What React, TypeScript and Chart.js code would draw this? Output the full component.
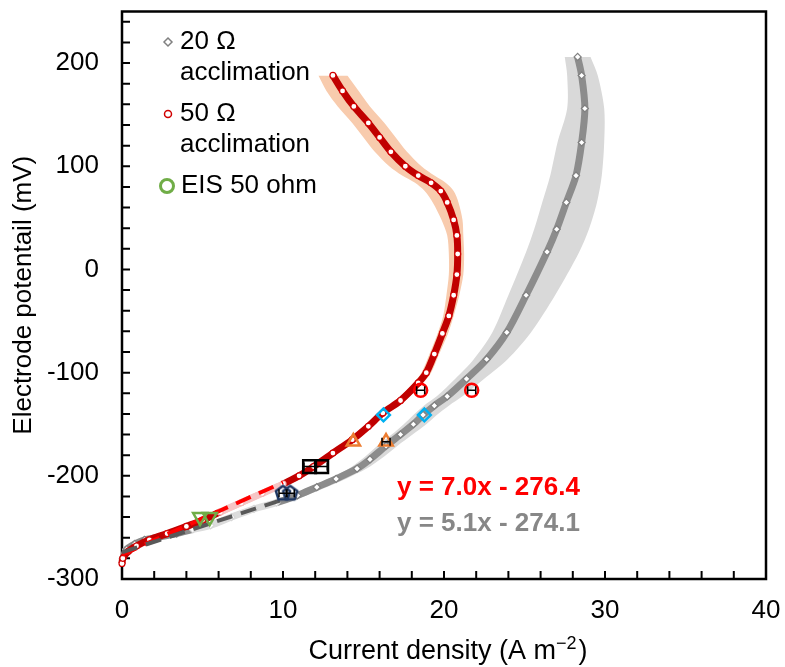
import React, { useEffect, useRef } from 'react';
import { Chart, registerables } from 'chart.js';

Chart.register(...registerables);

const FONT = "'Liberation Sans', Arial, Helvetica, sans-serif";

// ---- axes ----
const xTickValues = [0, 10, 20, 30, 40];
const yTickValues = [-300, -200, -100, 0, 100, 200];
const xMin = 0;
const xMax = 40;
const xMinorStep = 2;
const yMin = -300;
const yMax = 250;
const yMinorStep = 20;

// ---- 50 Ω acclimation (mean curve, x = current density, y = potential) ----
const red50X = [0.0, 0.05, 0.4, 0.9, 1.7, 2.8, 4.0, 5.0, 6.1, 7.4, 8.7, 10.0, 11.0, 11.9, 13.1, 14.3, 15.3, 16.2, 17.3, 18.4, 18.9, 19.4, 19.9, 20.3, 20.6, 20.8, 20.85, 20.8, 20.6, 20.2, 19.8, 19.2, 18.4, 17.6, 16.7, 16.0, 15.3, 14.4, 13.7, 13.1];
const red50Y = [-285, -280, -273, -268, -262, -256, -249, -243, -235, -226, -217, -208, -200, -191, -178, -165, -152, -139, -127, -110, -100, -82, -62, -45, -25, -5, 15, 33, 48, 65, 76, 84, 91, 100, 114, 128, 142, 158, 173, 188];
const red50ErrL = [0.15, 0.2, 0.25, 0.3, 0.3, 0.35, 0.4, 0.4, 0.45, 0.5, 0.5, 0.45, 0.35, 0.3, 0.3, 0.3, 0.3, 0.3, 0.3, 0.3, 0.3, 0.3, 0.3, 0.35, 0.45, 0.5, 0.55, 0.6, 0.75, 0.9, 1.0, 1.0, 1.0, 1.0, 1.0, 1.0, 1.0, 1.0, 1.0, 0.9];
const red50ErrR = [0.15, 0.2, 0.25, 0.3, 0.3, 0.35, 0.4, 0.45, 0.5, 0.5, 0.5, 0.45, 0.35, 0.3, 0.3, 0.3, 0.3, 0.3, 0.3, 0.3, 0.3, 0.3, 0.35, 0.3, 0.35, 0.4, 0.4, 0.4, 0.55, 0.7, 0.8, 0.9, 1.0, 1.0, 1.0, 1.0, 1.0, 1.0, 1.0, 0.9];

// ---- 20 Ω acclimation ----
const gray20X = [0.05, 0.3, 0.8, 1.4, 2.4, 3.4, 4.4, 5.5, 6.8, 8.2, 9.6, 10.9, 12.1, 13.3, 14.6, 15.4, 16.4, 17.3, 18.1, 18.7, 19.4, 20.2, 21.4, 22.65, 23.9, 25.1, 26.4, 27.0, 27.6, 28.2, 28.55, 28.75, 28.55, 28.3];
const gray20Y = [-280, -271, -266, -262, -259, -256, -252, -248, -240, -232, -226, -219, -211, -203, -193, -184, -171, -160, -150, -141, -132, -123, -106, -87, -61, -25, 17, 39, 65, 91, 123, 156, 188, 206];
const gray20ErrL = [0.2, 0.3, 0.35, 0.4, 0.4, 0.45, 0.5, 0.5, 0.5, 0.5, 0.5, 0.5, 0.5, 0.5, 0.5, 0.5, 0.55, 0.55, 0.6, 0.6, 0.65, 0.65, 0.7, 0.8, 0.9, 1.1, 1.3, 1.4, 1.5, 1.6, 1.5, 1.1, 0.9, 0.8];
const gray20ErrR = [0.2, 0.3, 0.35, 0.4, 0.4, 0.45, 0.5, 0.5, 0.5, 0.55, 0.55, 0.55, 0.6, 0.6, 0.6, 0.65, 0.7, 0.75, 0.8, 0.85, 0.9, 0.95, 1.1, 1.3, 1.5, 1.8, 2.0, 2.0, 1.9, 1.6, 1.4, 1.2, 1.0, 0.8];

// ---- linear fits (as printed on the chart) ----
const fit50Slope = 7.0;
const fit50Intercept = -276.4;
const fit50XRange = [0, 10];
const fit20Slope = 5.1;
const fit20Intercept = -274.1;
const fit20XRange = [0, 10];

// ---- EIS points ----
const eisGreenX = [4.85, 5.45];
const eisGreenY = [-240, -240];
const eisNavyX = [10.0, 10.45];
const eisNavyY = [-217, -217];
const eisNavyErr = [0.25, 0.25];
const eisBlackX = [11.65, 12.4];
const eisBlackY = [-191, -191];
const eisBlackErr = [0.35, 0.35];
const eisOrangeX = [14.37, 16.4];
const eisOrangeY = [-167, -167];
const eisOrangeErr = [0, 0.25];
const eisCyanX = [16.24, 18.78];
const eisCyanY = [-141, -141];
const eisRedX = [18.55, 21.72];
const eisRedY = [-117, -117];
const eisRedErr = [0.25, 0.25];

const red50PaleRange = [5.2, 10.2];
const gray20PaleRange = [3.6, 10.2];

const pts = (xs: number[], ys: number[]) => xs.map((x, i) => ({ x, y: ys[i] }));

function makePentagon(color: string, r: number, lw: number) {
  const c = document.createElement('canvas');
  const s = Math.ceil(2 * r + lw * 2 + 2);
  c.width = s;
  c.height = s;
  const g = c.getContext('2d')!;
  g.strokeStyle = color;
  g.lineWidth = lw;
  g.lineJoin = 'round';
  g.beginPath();
  for (let i = 0; i < 5; i++) {
    const a = -Math.PI / 2 + (i * 2 * Math.PI) / 5;
    const px = s / 2 + r * Math.cos(a);
    const py = s / 2 + r * Math.sin(a);
    if (i === 0) g.moveTo(px, py);
    else g.lineTo(px, py);
  }
  g.closePath();
  g.stroke();
  return c;
}

const inRange = (v: number, r: number[]) => v >= r[0] && v <= r[1];

const zeroPad = (s: any) => {
  s.paddingTop = 0;
  s.paddingBottom = 0;
  s.paddingLeft = 0;
  s.paddingRight = 0;
};

export default function App() {
  const ref = useRef<HTMLCanvasElement>(null);

  useEffect(() => {
    const canvas = ref.current!;
    const pentagon = makePentagon('#1F3864', 7.5, 2.5);

    const axesPlugin = {
      id: 'axesFrame',
      beforeDatasetsDraw(chart: any) {
        const { ctx, chartArea: a, scales } = chart;
        const xs = scales.x;
        const ys = scales.y;
        ctx.save();
        ctx.strokeStyle = '#000';
        ctx.lineWidth = 2.5;
        ctx.strokeRect(a.left, a.top, a.right - a.left, a.bottom - a.top);
        ctx.lineWidth = 2;
        ctx.beginPath();
        for (let v = yMin + yMinorStep; v < yMax; v += yMinorStep) {
          const py = ys.getPixelForValue(v);
          ctx.moveTo(a.left, py);
          ctx.lineTo(a.left + 8, py);
        }
        for (let v = xMin + xMinorStep; v < xMax; v += xMinorStep) {
          const px = xs.getPixelForValue(v);
          ctx.moveTo(px, a.bottom);
          ctx.lineTo(px, a.bottom - 8);
        }
        ctx.stroke();
        ctx.restore();
      },
    };

    const errPlugin = {
      id: 'errBars',
      afterDatasetsDraw(chart: any) {
        const { ctx, scales } = chart;
        const xs = scales.x;
        const ys = scales.y;
        const groups: [number[], number[], number[]][] = [
          [eisNavyX, eisNavyY, eisNavyErr],
          [eisBlackX, eisBlackY, eisBlackErr],
          [eisOrangeX, eisOrangeY, eisOrangeErr],
          [eisRedX, eisRedY, eisRedErr],
        ];
        ctx.save();
        ctx.strokeStyle = '#000';
        ctx.lineWidth = 1.5;
        ctx.beginPath();
        for (const [gx, gy, ge] of groups) {
          gx.forEach((x, i) => {
            if (!ge[i]) return;
            const x0 = xs.getPixelForValue(x - ge[i]);
            const x1 = xs.getPixelForValue(x + ge[i]);
            const py = ys.getPixelForValue(gy[i]);
            ctx.moveTo(x0, py);
            ctx.lineTo(x1, py);
            ctx.moveTo(x0, py - 4);
            ctx.lineTo(x0, py + 4);
            ctx.moveTo(x1, py - 4);
            ctx.lineTo(x1, py + 4);
          });
        }
        ctx.stroke();
        ctx.restore();
      },
    };

    const textPlugin = {
      id: 'texts',
      afterDraw(chart: any) {
        const { ctx, chartArea: a } = chart;
        ctx.save();
        ctx.textBaseline = 'middle';
        ctx.textAlign = 'left';
        // legend markers
        ctx.lineWidth = 1.5;
        ctx.strokeStyle = '#808080';
        ctx.fillStyle = '#fff';
        ctx.beginPath();
        ctx.moveTo(168, 38);
        ctx.lineTo(172, 42);
        ctx.lineTo(168, 46);
        ctx.lineTo(164, 42);
        ctx.closePath();
        ctx.fill();
        ctx.stroke();
        ctx.strokeStyle = '#D00000';
        ctx.beginPath();
        ctx.arc(168, 114, 3.5, 0, Math.PI * 2);
        ctx.fill();
        ctx.stroke();
        ctx.strokeStyle = '#70AD47';
        ctx.lineWidth = 3;
        ctx.beginPath();
        ctx.arc(167, 186, 6.5, 0, Math.PI * 2);
        ctx.stroke();
        // legend text
        ctx.fillStyle = '#000';
        ctx.font = `26px ${FONT}`;
        ctx.fillText('20 Ω', 180, 42);
        ctx.fillText('acclimation', 180, 73);
        ctx.fillText('50 Ω', 180, 114);
        ctx.fillText('acclimation', 180, 145);
        ctx.fillText('EIS 50 ohm', 181, 186);
        // equations
        ctx.font = `bold 26px ${FONT}`;
        ctx.fillStyle = '#FF0000';
        ctx.fillText(`y = ${fit50Slope.toFixed(1)}x - ${Math.abs(fit50Intercept).toFixed(1)}`, 397, 488);
        ctx.fillStyle = '#878787';
        ctx.fillText(`y = ${fit20Slope.toFixed(1)}x - ${Math.abs(fit20Intercept).toFixed(1)}`, 397, 524);
        // x title with superscript
        ctx.fillStyle = '#000';
        ctx.textBaseline = 'alphabetic';
        const main = 'Current density (A m';
        const sup = '\u22122';
        const end = ')';
        ctx.font = `27px ${FONT}`;
        const wMain = ctx.measureText(main).width;
        const wEnd = ctx.measureText(end).width;
        ctx.font = `18px ${FONT}`;
        const wSup = ctx.measureText(sup).width;
        const total = wMain + wSup + 2 + wEnd;
        const cx = (a.left + a.right) / 2 + 4;
        const base = 659;
        let x0 = cx - total / 2;
        ctx.font = `27px ${FONT}`;
        ctx.fillText(main, x0, base);
        x0 += wMain;
        ctx.font = `18px ${FONT}`;
        ctx.fillText(sup, x0, base - 10);
        x0 += wSup + 2;
        ctx.font = `27px ${FONT}`;
        ctx.fillText(end, x0, base);
        ctx.restore();
      },
    };

    const red50Pts = pts(red50X, red50Y);
    const gray20Pts = pts(gray20X, gray20Y);

    const config: any = {
      type: 'line',
      data: {
        datasets: [
          {
            data: gray20X.map((x, i) => ({ x: x + gray20ErrR[i], y: gray20Y[i] })),
            borderWidth: 0,
            borderColor: 'rgba(0,0,0,0)',
            pointRadius: 0,
            fill: false,
            tension: 0.3,
            order: 12,
          },
          {
            data: gray20X.map((x, i) => ({ x: x - gray20ErrL[i], y: gray20Y[i] })),
            borderWidth: 0,
            borderColor: 'rgba(0,0,0,0)',
            pointRadius: 0,
            fill: '-1',
            backgroundColor: '#D9D9D9',
            tension: 0.3,
            order: 12,
          },
          {
            data: red50X.map((x, i) => ({ x: x + red50ErrR[i], y: red50Y[i] })),
            borderWidth: 0,
            borderColor: 'rgba(0,0,0,0)',
            pointRadius: 0,
            fill: false,
            tension: 0.3,
            order: 11,
          },
          {
            data: red50X.map((x, i) => ({ x: x - red50ErrL[i], y: red50Y[i] })),
            borderWidth: 0,
            borderColor: 'rgba(0,0,0,0)',
            pointRadius: 0,
            fill: '-1',
            backgroundColor: '#F8CBAD',
            tension: 0.3,
            order: 11,
          },
          {
            label: '20 Ω acclimation',
            data: gray20Pts,
            borderColor: '#8C8C8C',
            borderWidth: 7,
            tension: 0.3,
            pointStyle: 'rectRot',
            pointRadius: 3.5,
            pointBorderWidth: 1.2,
            pointBackgroundColor: '#fff',
            pointBorderColor: (c: any) => (c.raw && inRange(c.raw.x, gray20PaleRange) ? '#D6D6D6' : '#7F7F7F'),
            segment: {
              borderColor: (c: any) =>
                inRange(c.p0.parsed.x, gray20PaleRange) && inRange(c.p1.parsed.x, gray20PaleRange) ? '#DCDCDC' : undefined,
            },
            clip: false,
            order: 6,
          },
          {
            label: '50 Ω acclimation',
            data: red50Pts,
            borderColor: '#C00000',
            borderWidth: 7,
            tension: 0.3,
            pointStyle: 'circle',
            pointRadius: 3,
            pointBorderWidth: 1.2,
            pointBackgroundColor: '#fff',
            pointBorderColor: (c: any) => (c.raw && inRange(c.raw.x, red50PaleRange) ? '#F3B8B8' : '#D00000'),
            segment: {
              borderColor: (c: any) =>
                inRange(c.p0.parsed.x, red50PaleRange) && inRange(c.p1.parsed.x, red50PaleRange) ? '#F6C6C6' : undefined,
            },
            clip: false,
            order: 5,
          },
          {
            data: fit20XRange.map((x) => ({ x, y: fit20Slope * x + fit20Intercept })),
            borderColor: '#595959',
            borderWidth: 4,
            borderDash: [16, 9],
            pointRadius: 0,
            order: 3,
          },
          {
            data: fit50XRange.map((x) => ({ x, y: fit50Slope * x + fit50Intercept })),
            borderColor: '#FF0000',
            borderWidth: 4,
            borderDash: [16, 9],
            pointRadius: 0,
            order: 3,
          },
          {
            label: 'EIS 50 ohm',
            data: pts(eisGreenX, eisGreenY),
            showLine: false,
            pointStyle: 'triangle',
            pointRotation: 180,
            pointRadius: 8,
            pointBorderWidth: 2.5,
            pointBorderColor: '#70AD47',
            pointBackgroundColor: 'rgba(0,0,0,0)',
            order: 1,
          },
          {
            data: pts(eisNavyX, eisNavyY),
            showLine: false,
            pointStyle: pentagon,
            pointRadius: 7,
            order: 1,
          },
          {
            data: pts(eisBlackX, eisBlackY),
            showLine: false,
            pointStyle: 'rect',
            pointRadius: 9,
            pointBorderWidth: 2.5,
            pointBorderColor: '#000',
            pointBackgroundColor: 'rgba(0,0,0,0)',
            order: 1,
          },
          {
            data: pts(eisOrangeX, eisOrangeY),
            showLine: false,
            pointStyle: 'triangle',
            pointRadius: 7.7,
            pointBorderWidth: 2.5,
            pointBorderColor: '#ED7D31',
            pointBackgroundColor: 'rgba(0,0,0,0)',
            order: 1,
          },
          {
            data: pts(eisCyanX, eisCyanY),
            showLine: false,
            pointStyle: 'rectRot',
            pointRadius: 6.4,
            pointBorderWidth: 2.5,
            pointBorderColor: '#00B0F0',
            pointBackgroundColor: 'rgba(0,0,0,0)',
            order: 1,
          },
          {
            data: pts(eisRedX, eisRedY),
            showLine: false,
            pointStyle: 'circle',
            pointRadius: 6.5,
            pointBorderWidth: 2.5,
            pointBorderColor: '#FF0000',
            pointBackgroundColor: 'rgba(0,0,0,0)',
            order: 1,
          },
        ],
      },
      options: {
        responsive: false,
        animation: false,
        indexAxis: 'y',
        events: [],
        layout: { padding: { top: 10, right: 19, left: 0, bottom: 0 } },
        plugins: {
          legend: { display: false },
          tooltip: { enabled: false },
        },
        scales: {
          x: {
            type: 'linear',
            position: 'bottom',
            min: xMin,
            max: xMax,
            grid: { display: false, drawTicks: false },
            border: { display: false },
            ticks: { padding: 16, color: '#000', font: { size: 26, family: FONT } },
            afterBuildTicks: (s: any) => {
              s.ticks = xTickValues.map((v) => ({ value: v }));
            },
            afterFit: (s: any) => {
              s.height = 88;
              zeroPad(s);
            },
          },
          y: {
            type: 'linear',
            position: 'left',
            min: yMin,
            max: yMax,
            grid: { display: false, drawTicks: false },
            border: { display: false },
            ticks: { padding: 23, color: '#000', font: { size: 26, family: FONT } },
            title: {
              display: true,
              text: 'Electrode potentail (mV)',
              color: '#000',
              font: { size: 26, family: FONT },
              padding: { top: 8, bottom: 0 },
            },
            afterBuildTicks: (s: any) => {
              s.ticks = yTickValues.map((v) => ({ value: v }));
            },
            afterFit: (s: any) => {
              s.width = 122;
              zeroPad(s);
            },
          },
        },
      },
      plugins: [axesPlugin, errPlugin, textPlugin],
    };

    const chart = new Chart(canvas, config);
    return () => chart.destroy();
  }, []);

  return (
    <div style={{ position: 'fixed', left: 0, top: 0, width: 785, height: 667, background: '#fff' }}>
      <canvas ref={ref} width={785} height={667} style={{ display: 'block', width: 785, height: 667 }} />
    </div>
  );
}
